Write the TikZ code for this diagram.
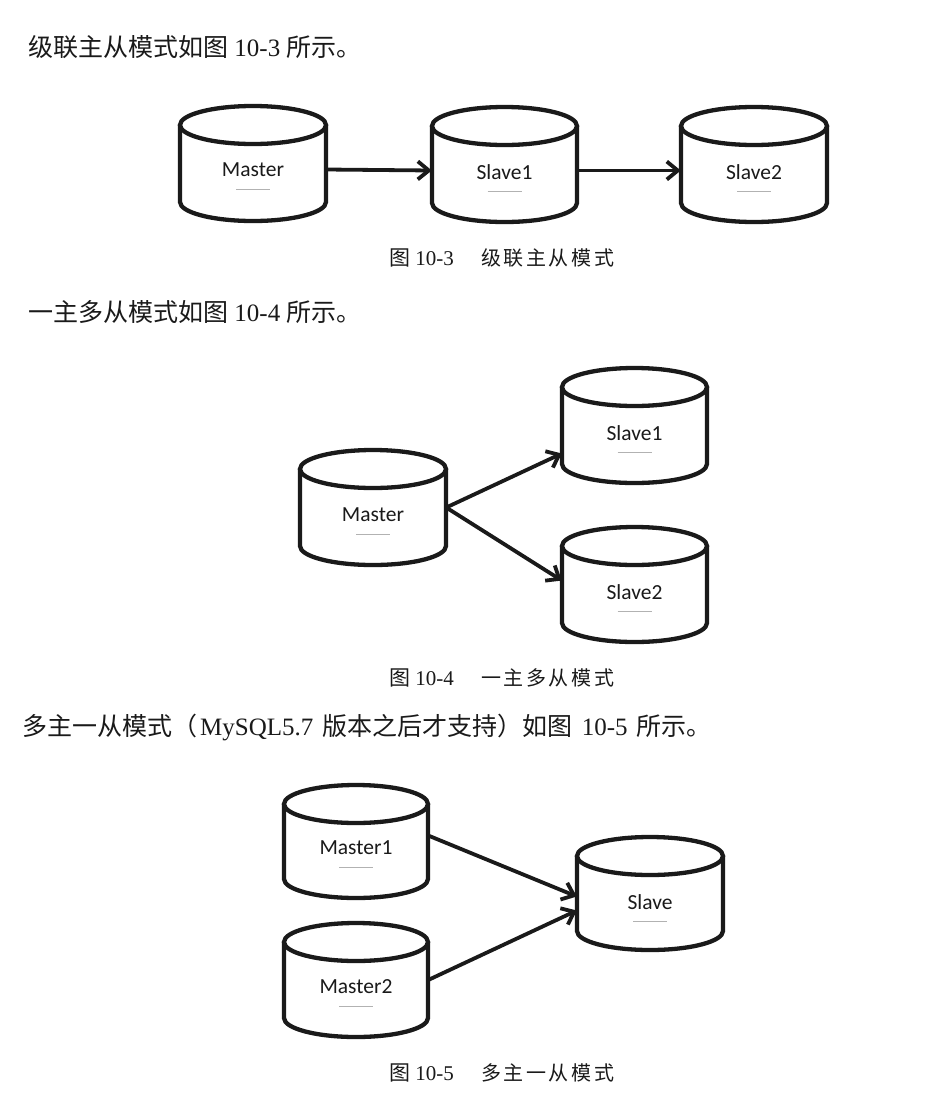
\documentclass[tikz,border=0pt]{standalone}
\usepackage{fontspec}
\setmainfont{Liberation Serif}
\newfontfamily\cjk{Noto Sans CJK SC}
\newfontfamily\cjkcap[LetterSpace=13]{Noto Sans CJK SC}
\newfontfamily\lblfont{Carlito}
\usetikzlibrary{arrows.meta}
\definecolor{ink}{HTML}{1A1A1A}
\tikzset{
  cylline/.style={draw=ink,line width=4.3pt,fill=white},
  lbl/.style={font=\lblfont\fontsize{21.5}{24}\selectfont,text=ink,inner sep=0},
  scrib/.style={draw=gray!60,line width=0.8pt},
  conn/.style={draw=ink,line width=3.8pt,-{Straight Barb[length=11pt,width=18pt,line width=3.8pt]}},
  body/.style={font=\fontsize{25}{28}\selectfont,text=ink,inner sep=0,anchor=west},
  capnum/.style={font=\fontsize{21}{24}\selectfont,text=ink,inner sep=0,anchor=west},
  captxt/.style={font=\cjkcap\fontsize{20}{24}\selectfont,text=ink,inner sep=0,anchor=west},
}
\newcommand\dbcyl[7]{%
  \pgfmathsetmacro\dbcx{(#2+#3)/2}%
  \pgfmathsetmacro\dbrx{(#3-#2)/2}%
  \pgfmathsetmacro\dbyt{-(#4)-19}%
  \pgfmathsetmacro\dbyb{-(#5)+19}%
  \draw[cylline] (#2,\dbyt) -- (#2,\dbyb) arc[start angle=180,end angle=360,x radius=\dbrx,y radius=19] -- (#3,\dbyt);
  \draw[cylline] (\dbcx,\dbyt) ellipse[x radius=\dbrx,y radius=19];
  \node[inner sep=0,minimum width={(#3-#2)*1pt},minimum height={(#5-#4)*1pt}] (#1) at (\dbcx,{-(#4+#5)/2}) {};
  \node[lbl] (#1-t) at (\dbcx,{-(#7)}) {#6};
  \draw[scrib] ({\dbcx-17},{-(#7)-19}) -- ({\dbcx+17},{-(#7)-19});
}
\begin{document}
\begin{tikzpicture}[x=1pt,y=1pt]
\fill[white] (0,0) rectangle (937,-1112);
\useasboundingbox (0,0) rectangle (937,-1112);

% text line 1
\node[body] (t1) at (28,-47) {{\cjk 级联主从模式如图} 10-3 {\cjk 所示。}};
% Fig 10-3
\dbcyl{m3}{180}{326}{106}{221}{Master}{170}
\dbcyl{s31}{432}{577}{107}{222}{Slave1}{172}
\dbcyl{s32}{681}{827}{107}{222}{Slave2}{172}
\draw[conn] ([yshift=-6pt]m3.east) -- ([yshift=-6pt]s31.west);
\draw[conn] ([yshift=-6pt]s31.east) -- ([yshift=-6pt]s32.west);
\node[capnum] (c3a) at (389,-258) {{\cjk 图} 10-3};
\node[captxt] (c3b) at (481,-258) {级联主从模式};

% text line 2
\node[body] (t2) at (28,-312) {{\cjk 一主多从模式如图} 10-4 {\cjk 所示。}};
% Fig 10-4
\dbcyl{m4}{300}{446}{450}{565}{Master}{515}
\dbcyl{s41}{562}{707}{368}{483}{Slave1}{433}
\dbcyl{s42}{562}{707}{527}{642}{Slave2}{592}
\draw[conn] (m4.east) -- ([yshift=-28pt]s41.west);
\draw[conn] (m4.east) -- ([yshift=4pt]s42.west);
\node[capnum] (c4a) at (389,-678) {{\cjk 图} 10-4};
\node[captxt] (c4b) at (481,-678) {一主多从模式};

% text line 3
\node[body] (t3) at (22,-727) {{\cjk 多主一从模式（}\hspace{3pt}MySQL5.7 \hspace{3pt}{\cjk 版本之后才支持）如图}\hspace{3pt} 10-5 \hspace{3pt}{\cjk 所示。}};
% Fig 10-5
\dbcyl{m51}{284}{428}{785}{898}{Master1}{848}
\dbcyl{m52}{284}{428}{923}{1037}{Master2}{987}
\dbcyl{s5}{577}{723}{837}{950}{Slave}{902}
\draw[conn] ([yshift=6pt]m51.east) -- ([yshift=-3pt]s5.west);
\draw[conn] (m52.east) -- ([yshift=-17pt]s5.west);
\node[capnum] (c5a) at (389,-1073) {{\cjk 图} 10-5};
\node[captxt] (c5b) at (481,-1073) {多主一从模式};
\end{tikzpicture}
\end{document}
